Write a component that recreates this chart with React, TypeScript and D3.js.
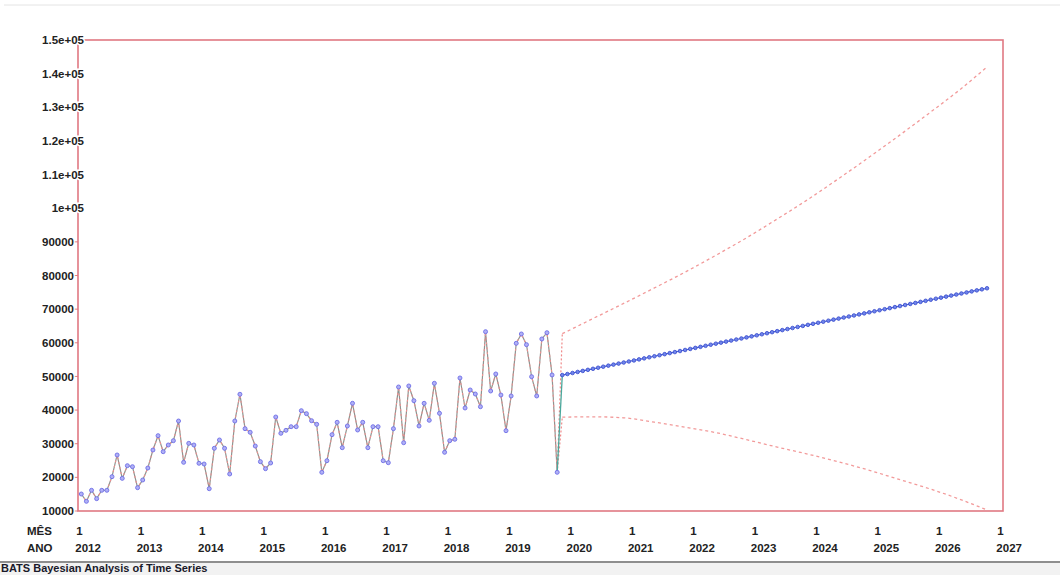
import React, { useEffect, useRef } from 'react';
import * as d3 from 'd3';

// observed monthly series, Jan 2012 .. Oct 2019
const actual = [
  15050, 12880, 16150, 13670, 16150, 16150, 20200, 26650, 19700, 23470, 23170, 16930,
  19220, 22780, 28130, 32390, 27630, 29620, 30900, 36750, 24470, 30110, 29620, 24180,
  23970, 16630, 28640, 31110, 28640, 21000, 36750, 44690, 34470, 33390, 29320, 24660,
  22580, 24270, 37940, 33090, 33980, 35060, 35060, 39820, 38930, 36840, 35770, 21500,
  24950, 32690, 36370, 28820, 35270, 42010, 34080, 36370, 28820, 35060, 35060, 24950,
  24360, 34470, 46860, 30300, 47160, 42790, 35270, 42010, 36960, 47960, 39040, 27450,
  30900, 31310, 49540, 40620, 45970, 44780, 41000, 63300, 45670, 50730, 44480, 33870,
  44190, 59850, 62620, 59440, 49920, 44190, 61130, 63000, 50430, 21500,
];

// forecast, Nov 2019 .. Oct 2026
const forecast = [
  50400, 50710, 51020, 51330, 51640, 51960, 52270, 52580, 52890, 53200, 53510, 53820,
  54130, 54440, 54750, 55060, 55370, 55690, 56000, 56310, 56620, 56930, 57240, 57550,
  57860, 58170, 58480, 58790, 59100, 59420, 59730, 60040, 60350, 60660, 60970, 61280,
  61600, 61910, 62220, 62530, 62840, 63150, 63460, 63770, 64080, 64390, 64700, 65010,
  65330, 65640, 65950, 66260, 66570, 66880, 67190, 67500, 67810, 68120, 68430, 68740,
  69060, 69370, 69680, 69990, 70300, 70610, 70920, 71230, 71540, 71850, 72160, 72470,
  72790, 73100, 73410, 73720, 74030, 74340, 74650, 74960, 75270, 75580, 75890, 76200,
];

// prediction limits, read every 6 months
const bandMonths = [94, 100, 106, 112, 118, 124, 130, 136, 142, 148, 154, 160, 166, 172, 177];
const upperBand = [62700, 67200, 71700, 76300, 81000, 86000, 91200, 96800, 102600, 108800, 115200, 121800, 128600, 135600, 142000];
const lowerBand = [37900, 38000, 37700, 36400, 34900, 33300, 31200, 29000, 26900, 24600, 22100, 19300, 16500, 13300, 10300];

const yearLabels = ['2012', '2013', '2014', '2015', '2016', '2017', '2018', '2019', '2020', '2021', '2022', '2023', '2024', '2025', '2026', '2027'];
const yTicks = [10000, 20000, 30000, 40000, 50000, 60000, 70000, 80000, 90000, 100000, 110000, 120000, 130000, 140000, 150000];
const yTickLabels = ['10000', '20000', '30000', '40000', '50000', '60000', '70000', '80000', '90000', '1e+05', '1.1e+05', '1.2e+05', '1.3e+05', '1.4e+05', '1.5e+05'];

const FONT = '"Liberation Sans", Arial, sans-serif';

const App = () => {
  const svgRef = useRef<SVGSVGElement>(null);

  useEffect(() => {
    const svg = d3.select(svgRef.current);
    svg.selectAll('*').remove();

    const left = 78, right = 1003, top = 40, bottom = 511;

    const x = d3.scaleLinear().domain([0, 180]).range([81.3, 81.3 + 5.117 * 180]);
    const y = d3.scaleLinear().domain([10000, 150000]).range([bottom, top]);

    // window edge
    svg.append('line').attr('x1', 4).attr('x2', 1060).attr('y1', 5).attr('y2', 5)
      .attr('stroke', '#e4e4e4').attr('stroke-width', 1);

    // plot frame
    svg.append('rect')
      .attr('x', left).attr('y', top)
      .attr('width', right - left).attr('height', bottom - top)
      .attr('fill', 'none').attr('stroke', '#e07882').attr('stroke-width', 1.6);

    // y labels
    const yl = svg.append('g');
    yTicks.forEach((t, i) => {
      const lab = yTickLabels[i];
      const isExp = lab.includes('e');
      yl.append('line').attr('x1', left - 5).attr('x2', left).attr('y1', y(t)).attr('y2', y(t))
        .attr('stroke', '#e07882').attr('stroke-width', 1);
      yl.append('text')
        .attr('x', isExp ? 84 : 74)
        .attr('y', y(t))
        .attr('dy', '0.36em')
        .attr('text-anchor', 'end')
        .style('font-family', FONT).style('font-size', '11.5px').style('font-weight', 'bold')
        .style('fill', '#222')
        .style('paint-order', 'stroke').style('stroke', '#fff').style('stroke-width', 3)
        .text(lab);
    });

    // x labels
    const xl = svg.append('g').style('font-family', FONT).style('font-size', '11.5px')
      .style('font-weight', 'bold').style('fill', '#222');
    xl.append('text').attr('x', 27).attr('y', 535).text('MÊS');
    xl.append('text').attr('x', 27).attr('y', 552).text('ANO');
    yearLabels.forEach((yr, i) => {
      const px = x(i * 12) - 6;
      xl.append('text').attr('x', px + 1).attr('y', 535).text('1');
      xl.append('text').attr('x', px).attr('y', 552).text(yr);
    });

    const g = svg.append('g');
    const lineA = d3.line<number>().x((d, i) => x(i)).y(d => y(d));

    // observed series
    g.append('path').datum(actual).attr('fill', 'none')
      .attr('stroke', '#8e9490').attr('stroke-width', 1.2).attr('d', lineA);
    g.append('path').datum(actual).attr('fill', 'none')
      .attr('stroke', '#f09090').attr('stroke-width', 1.1).attr('stroke-dasharray', '2,3').attr('d', lineA);

    const last = actual.length - 1;

    // bands
    const bandLine = d3.line<number>()
      .x((d, i) => x(bandMonths[i])).y(d => y(d))
      .curve(d3.curveMonotoneX);
    [upperBand, lowerBand].forEach(b => {
      g.append('line')
        .attr('x1', x(last)).attr('y1', y(actual[last]))
        .attr('x2', x(bandMonths[0])).attr('y2', y(b[0]))
        .attr('stroke', '#f08a8a').attr('stroke-width', 1.2).attr('stroke-dasharray', '2,2');
      g.append('path').datum(b).attr('fill', 'none')
        .attr('stroke', '#f29a9a').attr('stroke-width', 1.3).attr('stroke-dasharray', '3,3')
        .attr('d', bandLine);
    });

    // link to forecast
    g.append('line')
      .attr('x1', x(last)).attr('y1', y(actual[last]))
      .attr('x2', x(actual.length)).attr('y2', y(forecast[0]))
      .attr('stroke', '#4aa89c').attr('stroke-width', 1.3);

    // forecast line
    const lineF = d3.line<number>().x((d, i) => x(actual.length + i)).y(d => y(d));
    g.append('path').datum(forecast).attr('fill', 'none')
      .attr('stroke', '#4a60d8').attr('stroke-width', 1.2).attr('d', lineF);

    // markers
    g.selectAll('circle.obs').data(actual).join('circle')
      .attr('class', 'obs')
      .attr('cx', (d, i) => x(i)).attr('cy', d => y(d)).attr('r', 2)
      .attr('fill', '#b0b0f6').attr('stroke', '#6e6ee6').attr('stroke-width', 0.9);

    g.selectAll('circle.fc').data(forecast).join('circle')
      .attr('class', 'fc')
      .attr('cx', (d, i) => x(actual.length + i)).attr('cy', d => y(d)).attr('r', 1.8)
      .attr('fill', '#7086ea').attr('stroke', '#3548cc').attr('stroke-width', 0.8);

    // status bar
    svg.append('rect').attr('x', 0).attr('y', 562).attr('width', 1060).attr('height', 13).attr('fill', '#f2f2f2');
    svg.append('line').attr('x1', 0).attr('x2', 1060).attr('y1', 562).attr('y2', 562)
      .attr('stroke', '#8e8e8e').attr('stroke-width', 2);
    svg.append('text').attr('x', 1).attr('y', 572)
      .style('font-family', FONT).style('font-size', '11px').style('font-weight', 'bold')
      .style('fill', '#1a1a2a')
      .text('BATS  Bayesian Analysis of Time Series');
  }, []);

  return (
    <svg ref={svgRef} width={1060} height={575}
      style={{ position: 'absolute', left: 0, top: 0, background: '#fff' }} />
  );
};

export default App;
